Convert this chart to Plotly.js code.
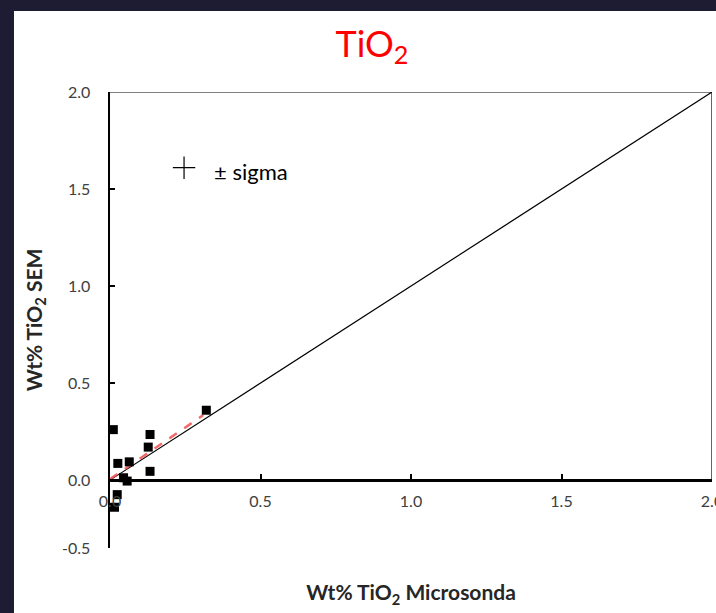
<!DOCTYPE html>
<html>
<head>
<meta charset="utf-8">
<script src="https://cdn.plot.ly/plotly-3.0.1.min.js"></script>
<style>
  html, body { margin: 0; padding: 0; background: #1e1c33; width: 716px; height: 613px; overflow: hidden; }
  #chart { position: absolute; left: 14px; top: 11px; width: 702px; height: 602px; background: #fff; }
</style>
</head>
<body>
<div id="chart"></div>
<script>
// Sample points: Microsonda (x) vs SEM (y), wt% TiO2
const microsonda = [0.011, 0.133, 0.127, 0.026, 0.064, 0.133, 0.045, 0.057, 0.024, 0.015, 0.32];
const sem        = [0.26, 0.235, 0.17, 0.086, 0.094, 0.045, 0.012, -0.005, -0.075, -0.14, 0.36];
// Regression (red dashed)
const regX = [0.0, 0.31];
const regY = [0.005, 0.335];
// 1:1 line
const oneX = [0, 2];
const oneY = [0, 2];
// sigma marker
const sigmaX = [0.246];
const sigmaY = [1.61];
// Axis ticks
const yTickVals = [-0.35, 0, 0.5, 1.0, 1.5, 2.0];
const yTickText = ['-0.5', '0.0', '0.5', '1.0', '1.5', '2.0'];
const xTickVals = [0, 0.5, 1.0, 1.5, 2.0];
const xTickText = ['0.0', '0.5', '1.0', '1.5', '2.0'];

const traces = [
  { x: oneX, y: oneY, mode: 'lines', line: { color: '#000', width: 1.2 }, hoverinfo: 'skip', showlegend: false },
  { x: regX, y: regY, mode: 'lines', line: { color: 'rgba(240,80,80,0.85)', width: 2.5, dash: 'dash' }, showlegend: false },
  { x: microsonda, y: sem, mode: 'markers', marker: { symbol: 'square', size: 9, color: '#000' }, showlegend: false },
  { x: sigmaX, y: sigmaY, mode: 'markers', marker: { symbol: 'cross-thin', size: 16, line: { color: '#000', width: 1.2 } }, showlegend: false }
];

const yMin = -0.35;
const xAxisPos = (0 - yMin) / (2 - yMin);

const layout = {
  width: 702, height: 602,
  margin: { l: 96, r: 4, t: 81, b: 65 },
  paper_bgcolor: '#fff', plot_bgcolor: '#fff',
  title: { text: 'TiO<sub>2</sub>', font: { family: 'Lato, sans-serif', size: 36, color: '#ff0000' },
           xref: 'container', x: 0.51, xanchor: 'center', yref: 'container', y: 0.945, yanchor: 'middle' },
  xaxis: {
    range: [0, 2], tickvals: xTickVals, ticktext: xTickText,
    showgrid: false, zeroline: false, showline: true, linecolor: '#000', linewidth: 2.5,
    ticks: 'inside', ticklen: 5, tickwidth: 2, tickcolor: '#000', ticklabeloverflow: 'allow',
    tickfont: { family: 'Lato, sans-serif', size: 16, color: '#404040' }, ticklabelstandoff: 6,
    anchor: 'free', position: xAxisPos,
    title: { text: 'Wt% TiO<sub>2</sub> Microsonda', font: { family: 'Lato, sans-serif', size: 21, color: '#262626', weight: 'bold' }, standoff: 76 }
  },
  yaxis: {
    range: [yMin, 2], tickvals: yTickVals, ticktext: yTickText,
    showgrid: false, zeroline: false, showline: true, linecolor: '#000', linewidth: 2.5,
    ticks: 'inside', ticklen: 5, tickwidth: 2, tickcolor: '#000',
    tickfont: { family: 'Lato, sans-serif', size: 16, color: '#404040' }, ticklabelstandoff: 14,
    title: { text: 'Wt% TiO<sub>2</sub> SEM', font: { family: 'Lato, sans-serif', size: 21, color: '#262626', weight: 'bold' }, standoff: 14 }
  },
  shapes: [
    { type: 'line', xref: 'x', yref: 'y', x0: 0, x1: 2, y0: 2, y1: 2, line: { color: '#000', width: 1.2 } },
    { type: 'line', xref: 'x', yref: 'y', x0: 2, x1: 2, y0: 0, y1: 2, line: { color: '#000', width: 1.2 } }
  ],
  annotations: [
    { x: 0.34, y: 1.59, xref: 'x', yref: 'y', text: '± sigma', showarrow: false, xanchor: 'left', yanchor: 'middle',
      font: { family: 'Lato, sans-serif', size: 22, color: '#000' } }
  ]
};

Plotly.newPlot('chart', traces, layout, { displayModeBar: false, staticPlot: true });
</script>
</body>
</html>
